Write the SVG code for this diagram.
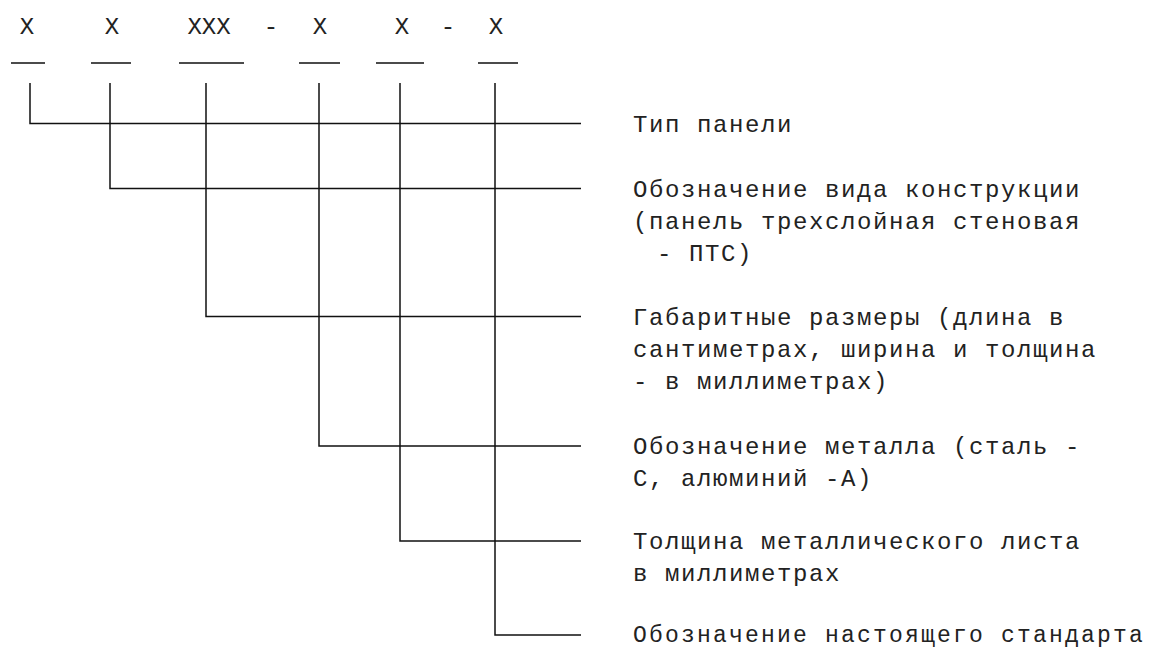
<svg xmlns="http://www.w3.org/2000/svg" width="1150" height="649" viewBox="0 0 1150 649">
<style>
.t{font-family:"Liberation Mono","DejaVu Sans Mono",monospace;font-size:24px;letter-spacing:1.6px;fill:#222}
.t2{font-size:23px;letter-spacing:2.2px}
.x{font-family:"Liberation Mono","DejaVu Sans Mono",monospace;font-size:24px;fill:#222;text-anchor:middle}
.ln{stroke:#111;stroke-width:1.5;fill:none}
</style>
<rect width="1150" height="649" fill="#fff"/>
<g id="code">
<text class="x" x="27" y="34">Х</text>
<text class="x" x="112" y="34">Х</text>
<text class="x" x="209" y="34">ХХХ</text>
<text class="x" x="271" y="34">-</text>
<text class="x" x="320" y="34">Х</text>
<text class="x" x="402" y="34">Х</text>
<text class="x" x="448" y="34">-</text>
<text class="x" x="496" y="34">Х</text>
<path class="ln" d="M11 63H45M91 63H131M179 63H244M299 63H340M376 63H424M478 63H518"/>
</g>
<g id="connectors">
<path class="ln" d="M30 83V123.5H581"/>
<path class="ln" d="M110 83V188.5H581"/>
<path class="ln" d="M206 83V316.5H581"/>
<path class="ln" d="M319 83V446H581"/>
<path class="ln" d="M400 83V541H581"/>
<path class="ln" d="M495 83V635H581"/>
</g>
<g id="label1"><text class="t" x="633" y="132">Тип панели</text></g>
<g id="label2">
<text class="t" x="633" y="197">Обозначение вида конструкции</text>
<text class="t" x="633" y="229">(панель трехслойная стеновая</text>
<text class="t" x="657" y="261">- ПТС)</text>
</g>
<g id="label3">
<text class="t" x="633" y="325">Габаритные размеры (длина в</text>
<text class="t" x="633" y="357">сантиметрах, ширина и толщина</text>
<text class="t" x="633" y="389">- в миллиметрах)</text>
</g>
<g id="label4">
<text class="t" x="633" y="454">Обозначение металла (сталь -</text>
<text class="t" x="633" y="486">С, алюминий -А)</text>
</g>
<g id="label5">
<text class="t" x="633" y="549">Толщина металлического листа</text>
<text class="t" x="633" y="581">в миллиметрах</text>
</g>
<g id="label6"><text class="t t2" x="633" y="642">Обозначение настоящего стандарта</text></g>
</svg>
